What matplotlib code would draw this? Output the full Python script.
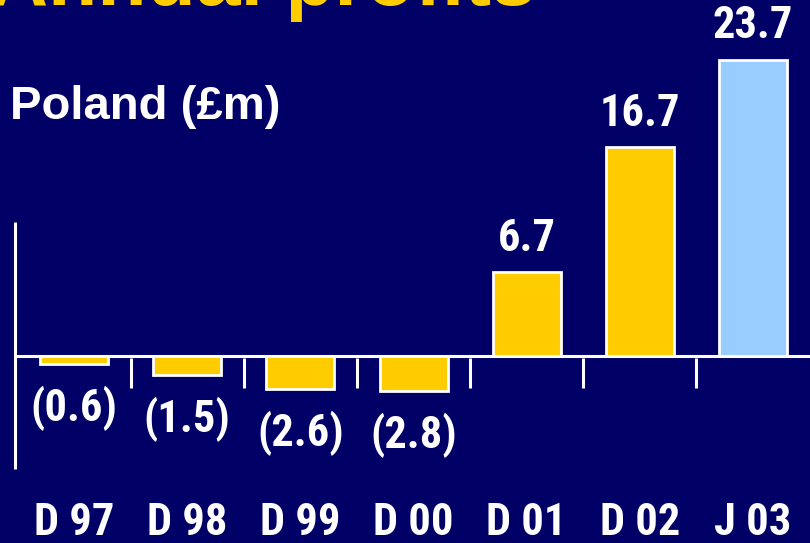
import matplotlib
matplotlib.use("Agg")
import matplotlib.pyplot as plt

categories = ["D 97", "D 98", "D 99", "D 00", "D 01", "D 02", "J 03"]
profits = [-0.6, -1.5, -2.6, -2.8, 6.7, 16.7, 23.7]
value_labels = ["(0.6)", "(1.5)", "(2.6)", "(2.8)", "6.7", "16.7", "23.7"]
title = "Annual profits"
subtitle = "Poland (£m)"

narrow = ["Roboto Condensed", "DejaVu Sans"]

BG = "#000066"
YELLOW = "#FFCC00"
LIGHTBLUE = "#99CCFF"
WHITE = "white"

W, H = 810, 543
fig = plt.figure(figsize=(W / 100, H / 100), dpi=100, facecolor=BG)
ax = fig.add_axes([0, 0, 1, 1], facecolor=BG)

# pixel mapping: zero line at y=356 px, 12.5 px per unit; bar centres 74..753 px
zero_px, ppu = 356, 12.5
x0_px, step_px = 74, (753 - 74) / 6
ax.set_ylim((zero_px - H) / ppu, zero_px / ppu)
ax.set_xlim((0 - x0_px) / step_px, (W - x0_px) / step_px)
ax.axis("off")

xs = list(range(len(categories)))
colors = [YELLOW] * (len(categories) - 1) + [LIGHTBLUE]
ax.bar(xs, profits, width=68 / step_px, color=colors, edgecolor=WHITE,
       linewidth=2.0, zorder=3)

# axes lines
left_x = (15 - x0_px) / step_px
ax.plot([left_x, left_x], [(zero_px - 469) / ppu, (zero_px - 222) / ppu],
        color=WHITE, lw=2.2, zorder=4, solid_capstyle="butt")
ax.plot([left_x, (W - x0_px) / step_px], [0, 0], color=WHITE, lw=2.2,
        zorder=2, solid_capstyle="butt")
for i in range(len(categories) - 1):
    ax.plot([i + 0.5, i + 0.5], [(zero_px - 358) / ppu, (zero_px - 388) / ppu],
            color=WHITE, lw=2.2, zorder=4, solid_capstyle="butt")

# value labels
for x, v, lab in zip(xs, profits, value_labels):
    if v >= 0:
        ax.annotate(lab, (x, v), xytext=(0, 9), textcoords="offset points",
                    ha="center", va="bottom", color=WHITE, fontsize=32,
                    fontweight="bold", family=narrow)
    else:
        ax.annotate(lab, (x, v), xytext=(0, -16), textcoords="offset points",
                    ha="center", va="top", color=WHITE, fontsize=32,
                    fontweight="bold", family=narrow)

# category labels
for x, c in zip(xs, categories):
    ax.text(x, (zero_px - 535) / ppu, c, ha="center", va="baseline",
            color=WHITE, fontsize=32, fontweight="bold", family=narrow)

fig.text(-0.012, 1 - 5 / H, title, ha="left", va="baseline", color=YELLOW,
         fontsize=58, fontweight="bold", family="Liberation Sans")
fig.text(10 / W, 1 - 119 / H, subtitle, ha="left", va="baseline", color=WHITE,
         fontsize=34, fontweight="bold", family="Liberation Sans")

fig.savefig("out.png", dpi=100, facecolor=BG)
